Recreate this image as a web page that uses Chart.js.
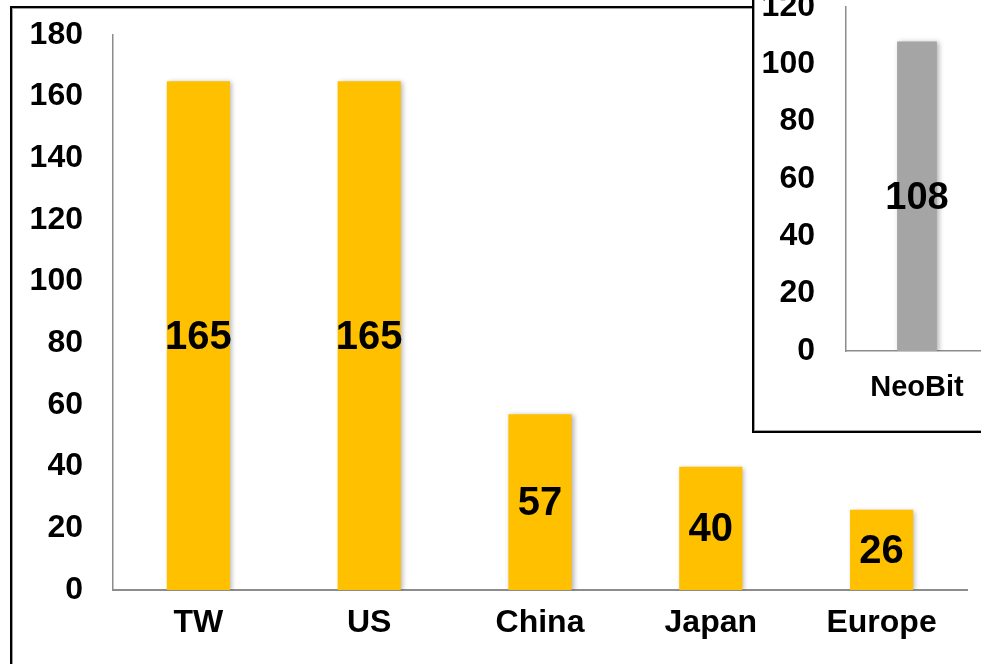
<!DOCTYPE html>
<html>
<head>
<meta charset="utf-8">
<script src="https://cdn.jsdelivr.net/npm/chart.js@4.4.1/dist/chart.umd.min.js"></script>
<style>
  html, body { margin: 0; padding: 0; width: 981px; height: 664px; overflow: hidden; background: #fff; }
  .frame { position: absolute; box-sizing: border-box; border: 2px solid #000; box-shadow: inset 0 0 0 1px #a0a0a0; background: #fff; }
  #mainFrame { left: 10px; top: 6px; width: 1100px; height: 800px; }
  #insetFrame { left: 752px; top: -30px; width: 300px; height: 463px; overflow: hidden; }
  #mainChart { position: absolute; left: 0; top: 0; }
  #insetChart { position: absolute; left: 2px; top: 8px; }
</style>
</head>
<body>
<div id="mainFrame" class="frame"></div>
<canvas id="mainChart" width="981" height="664"></canvas>
<div id="insetFrame" class="frame">
  <canvas id="insetChart" width="232" height="451"></canvas>
</div>
<script>
// main chart data
const regions = ['TW', 'US', 'China', 'Japan', 'Europe'];
const regionValues = [165, 165, 57, 40, 26];
const mainTicks = [0, 20, 40, 60, 80, 100, 120, 140, 160, 180];

// inset chart data
const insetLabels = ['NeoBit'];
const insetValues = [108];
const insetTicks = [0, 20, 40, 60, 80, 100, 120];

const FONT = "'Liberation Sans', Arial, sans-serif";

// soft shadow behind the bars
const barShadow = {
  id: 'barShadow',
  beforeDatasetsDraw(chart) {
    const ctx = chart.ctx;
    ctx.save();
    ctx.shadowColor = 'rgba(0, 0, 0, 0.3)';
    ctx.shadowBlur = 5;
    ctx.shadowOffsetX = 2;
    ctx.shadowOffsetY = 1;
  },
  afterDatasetsDraw(chart) {
    chart.ctx.restore();
  }
};

// value written in the middle of each bar
const barLabels = {
  id: 'barLabels',
  afterDatasetsDraw(chart, args, opts) {
    const ctx = chart.ctx;
    const meta = chart.getDatasetMeta(0);
    const data = chart.data.datasets[0].data;
    ctx.save();
    ctx.font = 'bold ' + opts.size + 'px ' + FONT;
    ctx.fillStyle = '#000';
    ctx.textAlign = 'center';
    ctx.textBaseline = 'middle';
    meta.data.forEach(function (bar, i) {
      ctx.fillText(String(data[i]), bar.x, (bar.y + bar.base) / 2 + 2);
    });
    ctx.restore();
  }
};

function axisTicks(list) {
  return {
    color: '#000',
    font: { family: FONT, size: 32, weight: 'bold' },
    callback: function (value) {
      return list.indexOf(value) >= 0 ? String(value) : '';
    }
  };
}

// fixed axis sizes, no extra room for half labels
function fixSize(w, h) {
  return function (scale) {
    if (w) scale.width = w;
    if (h) scale.height = h;
    scale.paddingTop = 0;
    scale.paddingBottom = 0;
    scale.paddingLeft = 0;
    scale.paddingRight = 0;
  };
}

// main chart
new Chart(document.getElementById('mainChart'), {
  type: 'bar',
  data: {
    labels: regions,
    datasets: [{
      data: regionValues,
      backgroundColor: '#FFC000',
      borderWidth: 0,
      categoryPercentage: 1,
      barPercentage: 0.37
    }]
  },
  options: {
    responsive: false,
    animation: false,
    devicePixelRatio: 1,
    layout: { padding: { top: 35, right: 14, left: 0, bottom: 0 } },
    plugins: {
      legend: { display: false },
      tooltip: { enabled: false },
      barLabels: { size: 40 }
    },
    scales: {
      x: {
        grid: { display: false, drawTicks: false },
        border: { color: '#8c8c8c', width: 2 },
        ticks: {
          color: '#000',
          font: { family: FONT, size: 32, weight: 'bold' },
          padding: 14
        },
        afterFit: fixSize(0, 74)
      },
      y: {
        min: mainTicks[0],
        max: mainTicks[mainTicks.length - 1],
        grid: { display: false, drawTicks: false },
        border: { color: '#8c8c8c', width: 1.5 },
        ticks: Object.assign(axisTicks(mainTicks), { stepSize: 20, padding: 30 }),
        afterFit: fixSize(113, 0)
      }
    }
  },
  plugins: [barShadow, barLabels]
});

// inset chart
new Chart(document.getElementById('insetChart'), {
  type: 'bar',
  data: {
    labels: insetLabels,
    datasets: [{
      data: insetValues,
      backgroundColor: '#A5A5A5',
      borderWidth: 0,
      categoryPercentage: 1,
      barPercentage: 0.28
    }]
  },
  options: {
    responsive: false,
    animation: false,
    devicePixelRatio: 1,
    layout: { padding: { top: 27, right: 0, left: 0, bottom: 0 } },
    plugins: {
      legend: { display: false },
      tooltip: { enabled: false },
      barLabels: { size: 38 }
    },
    scales: {
      x: {
        grid: { display: false, drawTicks: false },
        border: { color: '#8c8c8c', width: 1.5 },
        ticks: {
          color: '#000',
          font: { family: FONT, size: 29, weight: 'bold' },
          padding: 20
        },
        afterFit: fixSize(0, 80)
      },
      y: {
        min: insetTicks[0],
        max: insetTicks[insetTicks.length - 1],
        grid: { display: false, drawTicks: false },
        border: { color: '#8c8c8c', width: 1.5 },
        ticks: Object.assign(axisTicks(insetTicks), { stepSize: 20, padding: 31 }),
        afterFit: fixSize(90, 0)
      }
    }
  },
  plugins: [barShadow, barLabels]
});
</script>
</body>
</html>
